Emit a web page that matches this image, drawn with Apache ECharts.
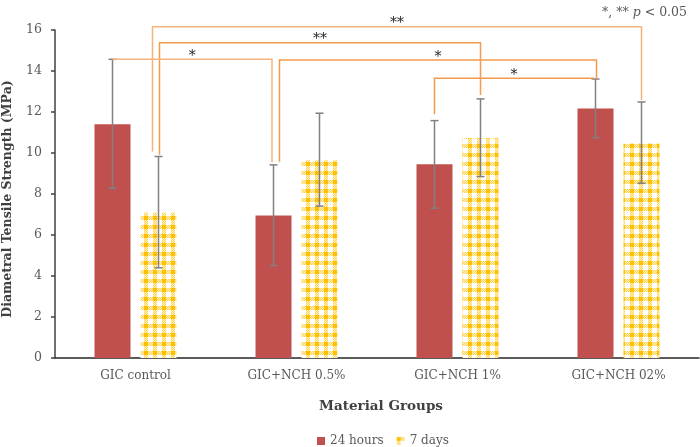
<!DOCTYPE html>
<html>
<head>
<meta charset="utf-8">
<script src="https://cdn.jsdelivr.net/npm/echarts@6/dist/echarts.min.js"></script>
<style>
html,body{margin:0;padding:0;background:#fff}
#main{width:700px;height:447px}
</style>
</head>
<body>
<div id="main"></div>
<script>
var categories = ['GIC control', 'GIC+NCH 0.5%', 'GIC+NCH 1%', 'GIC+NCH 02%'];
var seriesNames = ['24 hours', '7 days'];
var hours24 = [11.4, 6.95, 9.45, 12.17];
var hours24Low = [8.28, 4.51, 7.31, 10.75];
var hours24High = [14.57, 9.42, 11.58, 13.61];
var days7 = [7.1, 9.65, 10.72, 10.47];
var days7Low = [4.4, 7.41, 8.85, 8.52];
var days7High = [9.83, 11.94, 12.64, 12.49];
var yMin = 0, yMax = 16, yStep = 2;

// significance brackets: from [cat, series, leg end], to [cat, series, leg end], level, label
var bracketFrom = [[0, 1, 10.07], [0, 1, 9.91], [0, 0, 14.57], [1, 0, 9.57], [2, 0, 11.89]];
var bracketTo = [[3, 1, 12.59], [2, 1, 12.83], [1, 0, 9.55], [3, 0, 13.61], [3, 0, 13.61]];
var bracketLevel = [16.16, 15.38, 14.57, 14.54, 13.65];
var bracketLabel = ['**', '**', '*', '*', '*'];
var pNote = '*, ** {i|p} < 0.05';

var FONT = '"DejaVu Serif", serif';
var barW = 36, barGapPx = 10;
var shift = [-(barW + barGapPx) / 2, (barW + barGapPx) / 2];
// small hand nudges so overlapping legs don't sit on top of each other
var legNudge = [[-6, 0], [1, 0], [0, -1.5], [6, 1], [0, -2]];
var bracketColor = ['#F5B47E', '#F39A4C', '#F5B47E', '#F39A4C', '#F39A4C'];

function makeGingham() {
	var p = 9, s = 4;
	var c = document.createElement('canvas');
	c.width = p; c.height = p;
	var ctx = c.getContext('2d');
	ctx.fillStyle = '#ffffff';
	ctx.fillRect(0, 0, p, p);
	for (var x = 0; x < p; x++) {
		for (var y = 0; y < p; y++) {
			var inX = x < s, inY = y < s;
			if (inX && inY) {
				ctx.fillStyle = '#FFC000';
				ctx.fillRect(x, y, 1, 1);
			} else if (inX || inY) {
				ctx.fillStyle = ((x + y) % 2 === 0) ? '#FFD34D' : '#FFF2C8';
				ctx.fillRect(x, y, 1, 1);
			}
		}
	}
	return c;
}

var pattern = {image: makeGingham(), repeat: 'repeat'};

function errData(low, high) {
	var out = [];
	for (var i = 0; i < low.length; i++) {
		out.push([i, low[i], high[i]]);
	}
	return out;
}

function errRender(sIdx) {
	return function (params, api) {
		var lo = api.coord([api.value(0), api.value(1)]);
		var hi = api.coord([api.value(0), api.value(2)]);
		var x = lo[0] + shift[sIdx];
		var cap = 4;
		var st = {stroke: '#808080', lineWidth: 1.5};
		return {
			type: 'group',
			children: [
				{type: 'line', shape: {x1: x, y1: lo[1], x2: x, y2: hi[1]}, style: st},
				{type: 'line', shape: {x1: x - cap, y1: lo[1], x2: x + cap, y2: lo[1]}, style: st},
				{type: 'line', shape: {x1: x - cap, y1: hi[1], x2: x + cap, y2: hi[1]}, style: st}
			]
		};
	};
}

function bracketRender(params, api) {
	var i = params.dataIndex;
	var f = bracketFrom[i], t = bracketTo[i];
	var x1 = api.coord([f[0], 0])[0] + shift[f[1]] + legNudge[i][0];
	var x2 = api.coord([t[0], 0])[0] + shift[t[1]] + legNudge[i][1];
	var yl = api.coord([0, bracketLevel[i]])[1];
	var y1 = api.coord([0, f[2]])[1];
	var y2 = api.coord([0, t[2]])[1];
	return {
		type: 'group',
		children: [
			{
				type: 'polyline',
				shape: {points: [[x1, y1], [x1, yl], [x2, yl], [x2, y2]]},
				style: {stroke: bracketColor[i], lineWidth: 1.5, fill: null}
			},
			{
				type: 'text',
				x: (x1 + x2) / 2,
				y: yl + 4,
				style: {
					text: bracketLabel[i],
					align: 'center',
					verticalAlign: 'bottom',
					font: '14px ' + FONT,
					fill: '#262626'
				}
			}
		]
	};
}

var bracketData = [];
for (var b = 0; b < bracketLevel.length; b++) {
	bracketData.push([bracketFrom[b][0], bracketLevel[b]]);
}

var myChart = echarts.init(document.getElementById('main'));

var option = {
	animation: false,
	textStyle: {fontFamily: FONT},
	title: {
		text: pNote,
		right: 8,
		top: 1,
		textStyle: {
			fontSize: 12.5,
			fontWeight: 'normal',
			color: '#595959',
			fontFamily: FONT,
			rich: {
				i: {fontSize: 12.5, fontStyle: 'italic', color: '#595959', fontFamily: FONT}
			}
		}
	},
	legend: {
		data: seriesNames,
		left: 312,
		top: 430,
		itemWidth: 8,
		itemHeight: 8,
		itemGap: 13,
		icon: 'rect',
		textStyle: {fontSize: 12, color: '#595959', fontFamily: FONT}
	},
	grid: {left: 55, right: 1, top: 30, bottom: 89, outerBoundsMode: 'none'},
	xAxis: {
		type: 'category',
		data: categories,
		name: 'Material Groups',
		nameLocation: 'middle',
		nameGap: 41,
		nameTextStyle: {fontSize: 13.5, fontWeight: 'bold', color: '#404040', fontFamily: FONT, verticalAlign: 'top', padding: [0, 0, 0, 8]},
		axisLine: {lineStyle: {color: '#262626', width: 1.5}},
		axisTick: {show: false},
		axisLabel: {fontSize: 12, color: '#595959', margin: 12, fontFamily: FONT}
	},
	yAxis: {
		type: 'value',
		min: yMin,
		max: yMax,
		interval: yStep,
		name: 'Diametral Tensile Strength (MPa)',
		nameLocation: 'middle',
		nameGap: 41,
		nameTextStyle: {fontSize: 12.5, fontWeight: 'bold', color: '#404040', fontFamily: FONT, padding: [0, 10, 0, 0]},
		axisLine: {show: true, lineStyle: {color: '#404040', width: 1.5}},
		axisTick: {show: true, length: 4, lineStyle: {color: '#404040', width: 1.5}},
		axisLabel: {fontSize: 12.5, color: '#595959', margin: 13, fontFamily: FONT},
		splitLine: {show: false}
	},
	series: [
		{
			name: seriesNames[0],
			type: 'bar',
			data: hours24,
			barWidth: barW,
			barGap: (barGapPx / barW * 100) + '%',
			itemStyle: {color: '#C0504D'}
		},
		{
			name: seriesNames[1],
			type: 'bar',
			data: days7,
			barWidth: barW,
			itemStyle: {color: pattern}
		},
		{
			type: 'custom',
			renderItem: errRender(0),
			data: errData(hours24Low, hours24High),
			encode: {x: 0, y: [1, 2]},
			z: 5
		},
		{
			type: 'custom',
			renderItem: errRender(1),
			data: errData(days7Low, days7High),
			encode: {x: 0, y: [1, 2]},
			z: 5
		},
		{
			type: 'custom',
			renderItem: bracketRender,
			data: bracketData,
			encode: {x: 0, y: 1},
			clip: false,
			z: 6
		}
	]
};

myChart.setOption(option);
</script>
</body>
</html>
